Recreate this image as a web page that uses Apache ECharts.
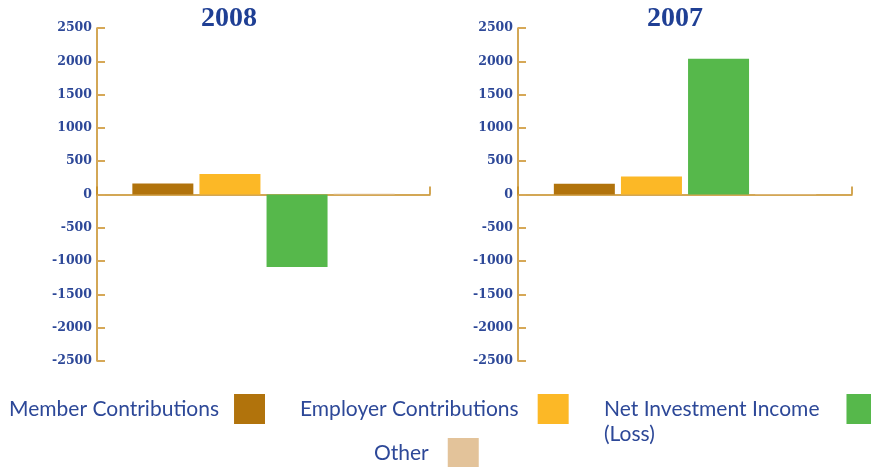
<!DOCTYPE html>
<html>
<head>
<meta charset="utf-8">
<script src="https://cdn.jsdelivr.net/npm/echarts@6/dist/echarts.min.js"></script>
<style>
  html, body { margin: 0; padding: 0; background: #fff; }
  #chart { width: 871px; height: 467px; }
</style>
</head>
<body>
<div id="chart"></div>
<script>
// data
const years = ['2008', '2007']
const seriesNames = ['Member Contributions', 'Employer Contributions', 'Net Investment Income (Loss)', 'Other']
const values2008 = [165, 309, -1087, 12]
const values2007 = [160, 270, 2037, -6]
const yTicks = [-2500, 2500, 500] // min, max, step
const colors = ['#b1730c', '#fcb826', '#56b84b', '#e3c39a']

const blue = '#2d4898'
const gold = '#c58a1e'

function yAxis(gridIndex) {
  return {
    type: 'value',
    gridIndex: gridIndex,
    min: yTicks[0],
    max: yTicks[1],
    interval: yTicks[2],
    axisLine: { show: true, lineStyle: { color: gold, width: 1.5 } },
    axisTick: { show: true, inside: true, length: 8, lineStyle: { color: '#d6a857', width: 2 } },
    splitLine: { show: false },
    axisLabel: {
      margin: 5,
      color: blue,
      fontFamily: 'DejaVu Serif',
      fontWeight: 'bold',
      fontSize: 12.5,
      formatter: v => String(v)
    }
  }
}

function xAxis(gridIndex) {
  return {
    type: 'category',
    gridIndex: gridIndex,
    data: [''],
    axisLine: { show: true, onZero: true, lineStyle: { color: gold, width: 1.5 } },
    axisTick: { show: true, inside: true, length: 8, interval: 0, lineStyle: { color: gold, width: 1.5 } },
    axisLabel: { show: false }
  }
}

const series = []
;[values2008, values2007].forEach((vals, g) => {
  vals.forEach((v, i) => {
    series.push({
      name: seriesNames[i],
      type: 'bar',
      xAxisIndex: g,
      yAxisIndex: g,
      barWidth: 61,
      barGap: '10%',
      itemStyle: { color: colors[i] },
      data: [v]
    })
  })
})

const legendPos = [
  { left: 9, top: 394, gap: 10 },
  { left: 300, top: 394, gap: 14 },
  { left: 604, top: 394, gap: 22 },
  { left: 374, top: 438, gap: 14 }
]
const legendLabels = ['Member Contributions', 'Employer Contributions', 'Net Investment Income', 'Other']

const legends = seriesNames.map((name, i) => ({
  data: [name],
  left: legendPos[i].left,
  top: legendPos[i].top,
  padding: 0,
  align: 'right',
  icon: 'rect',
  itemWidth: 31,
  itemHeight: 30,
  selectedMode: false,
  formatter: () => legendLabels[i],
  textStyle: {
    color: blue,
    fontFamily: 'Lato',
    fontSize: 21,
    padding: [0, legendPos[i].gap, 0, 0]
  }
}))

const chart = echarts.init(document.getElementById('chart'))
chart.setOption({
  animation: false,
  title: [
    { text: years[0], left: 224, top: 0, textAlign: 'center',
      textStyle: { color: '#1f3f94', fontFamily: 'Liberation Serif', fontWeight: 'bold', fontSize: 28 } },
    { text: years[1], left: 670, top: 0, textAlign: 'center',
      textStyle: { color: '#1f3f94', fontFamily: 'Liberation Serif', fontWeight: 'bold', fontSize: 28 } }
  ],
  legend: legends,
  graphic: [
    { type: 'text', left: 604, top: 424,
      style: { text: '(Loss)', fill: blue, font: '21px Lato' } }
  ],
  grid: [
    { left: 97, right: 441, top: 28, bottom: 106 },
    { left: 518, right: 19, top: 28, bottom: 106 }
  ],
  xAxis: [xAxis(0), xAxis(1)],
  yAxis: [yAxis(0), yAxis(1)],
  series: series
})
</script>
</body>
</html>
